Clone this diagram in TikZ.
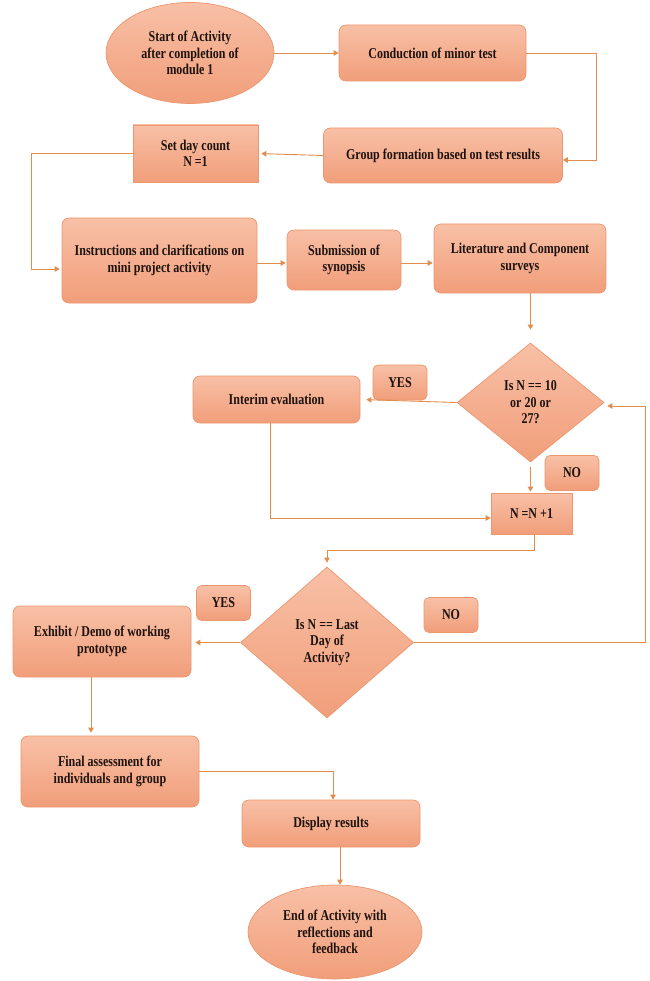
\documentclass[tikz,border=0pt]{standalone}
\usepackage{fontspec}
\newfontfamily\nf{Liberation Serif}[FakeStretch=0.8]
\usetikzlibrary{shapes.geometric,arrows.meta,calc}
\definecolor{ftop}{RGB}{248,192,166}
\definecolor{fbot}{RGB}{241,158,122}
\definecolor{bord}{RGB}{236,150,110}
\definecolor{lnc}{RGB}{226,140,78}
\definecolor{txc}{RGB}{30,18,14}
\tikzset{
  base/.style={draw=bord, line width=0.7pt, top color=ftop, bottom color=fbot,
    text=txc, align=center, inner sep=0pt,
    font=\nf\bfseries\fontsize{15}{16.5}\selectfont},
  rbox/.style={base, rectangle, rounded corners=7pt},
  sbox/.style={base, rectangle},
  term/.style={base, ellipse},
  dec/.style={base, diamond},
  lbl/.style={base, rectangle, rounded corners=5pt, minimum width=54pt, minimum height=35pt},
  arr/.style={draw=lnc, line width=0.9pt, -{Triangle[width=5.5pt,length=5pt]}},
  ln/.style={draw=lnc, line width=0.9pt}
}
\begin{document}
\begin{tikzpicture}[x=1pt,y=-1pt]
\useasboundingbox (0,0) rectangle (649,981);
% nodes
\node[term, minimum width=168pt, minimum height=101pt] (start) at (190,53) {Start of Activity\\after completion of\\module 1};
\node[rbox, minimum width=187pt, minimum height=56pt] (cond) at (432.5,53) {Conduction of minor test};
\node[rbox, minimum width=239pt, minimum height=55pt] (group) at (443,155.5) {Group formation based on test results};
\node[sbox, minimum width=125pt, minimum height=57pt] (setn) at (195.5,153.5) {Set day count\\N =1};
\node[rbox, minimum width=195pt, minimum height=85pt] (instr) at (159.5,260.5) {Instructions and clarifications on\\mini project activity};
\node[rbox, minimum width=114pt, minimum height=60pt] (subm) at (344,260) {Submission of\\synopsis};
\node[rbox, minimum width=172pt, minimum height=69pt] (lit) at (520,258.5) {Literature and Component\\surveys};
\node[dec, minimum width=147pt, minimum height=119pt] (d1) at (530.5,402.5) {Is N == 10\\or 20 or\\27?};
\node[lbl] (yes1) at (400,382.5) {YES};
\node[rbox, minimum width=167pt, minimum height=47pt] (interim) at (276.5,399.5) {Interim evaluation};
\node[lbl] (no1) at (572,473) {NO};
\node[sbox, minimum width=81pt, minimum height=41pt] (nn) at (531.5,513.5) {N =N +1};
\node[dec, minimum width=173pt, minimum height=151pt] (d2) at (327,642.5) {Is N == Last\\Day of\\Activity?};
\node[lbl] (yes2) at (223.5,603) {YES};
\node[lbl] (no2) at (451,615) {NO};
\node[rbox, minimum width=178pt, minimum height=71pt] (exh) at (102,641.5) {Exhibit / Demo of working\\prototype};
\node[rbox, minimum width=178pt, minimum height=71pt] (fin) at (110,771.5) {Final assessment for\\individuals and group};
\node[rbox, minimum width=178pt, minimum height=47pt] (disp) at (331,823.5) {Display results};
\node[term, minimum width=174pt, minimum height=94pt] (endn) at (335,932) {End of Activity with\\reflections and\\feedback};
% helper coordinates
\coordinate (r1) at (596,160);
\coordinate (l1) at (31,269);
\coordinate (b1) at (270,518);
\coordinate (b2) at (327,550);
\coordinate (r2) at (645,406);
\coordinate (f1) at (333,771);
% connectors
\draw[arr] (start.east) -- (cond.west);
\draw[arr] (cond.east) -| (r1) -- (group.east |- r1);
\draw[arr, shorten >=3pt] (group.west) -- (setn.east);
\draw[arr, shorten >=2pt] (setn.west) -| (l1) -- (instr.west |- l1);
\draw[arr, shorten >=1pt] (instr.east |- 0,263) -- (subm.west |- 0,263);
\draw[arr, shorten >=1pt] (subm.east |- 0,263) -- (lit.west |- 0,263);
\draw[arr, shorten >=13pt] (lit.south -| d1.north) -- (d1.north);
\draw[arr, shorten >=6pt] (d1.west) -- (interim.east);
\draw[arr] (interim.south -| b1) -- (b1) -- (nn.west |- b1);
\draw[arr, shorten <=5pt, shorten >=1pt] (d1.south) -- (nn.north -| d1.south);
\draw[arr, shorten >=4pt] (nn.south -| 534,0) -- (534,550) -- (b2) -- (d2.north);
\draw[arr, shorten >=3pt] (d2.east) -- (d2.east -| r2) -- (r2) -- (d1.east |- r2);
\draw[arr, shorten >=4pt] (d2.west) -- (exh.east |- d2.west);
\draw[arr, shorten >=3pt] (exh.south -| 91,0) -- (fin.north -| 91,0);
\draw[arr] (fin.east |- f1) -- (f1) -- (disp.north -| f1);
\draw[arr] (disp.south -| 340,0) -- (endn.north -| 340,0);
\end{tikzpicture}
\end{document}
